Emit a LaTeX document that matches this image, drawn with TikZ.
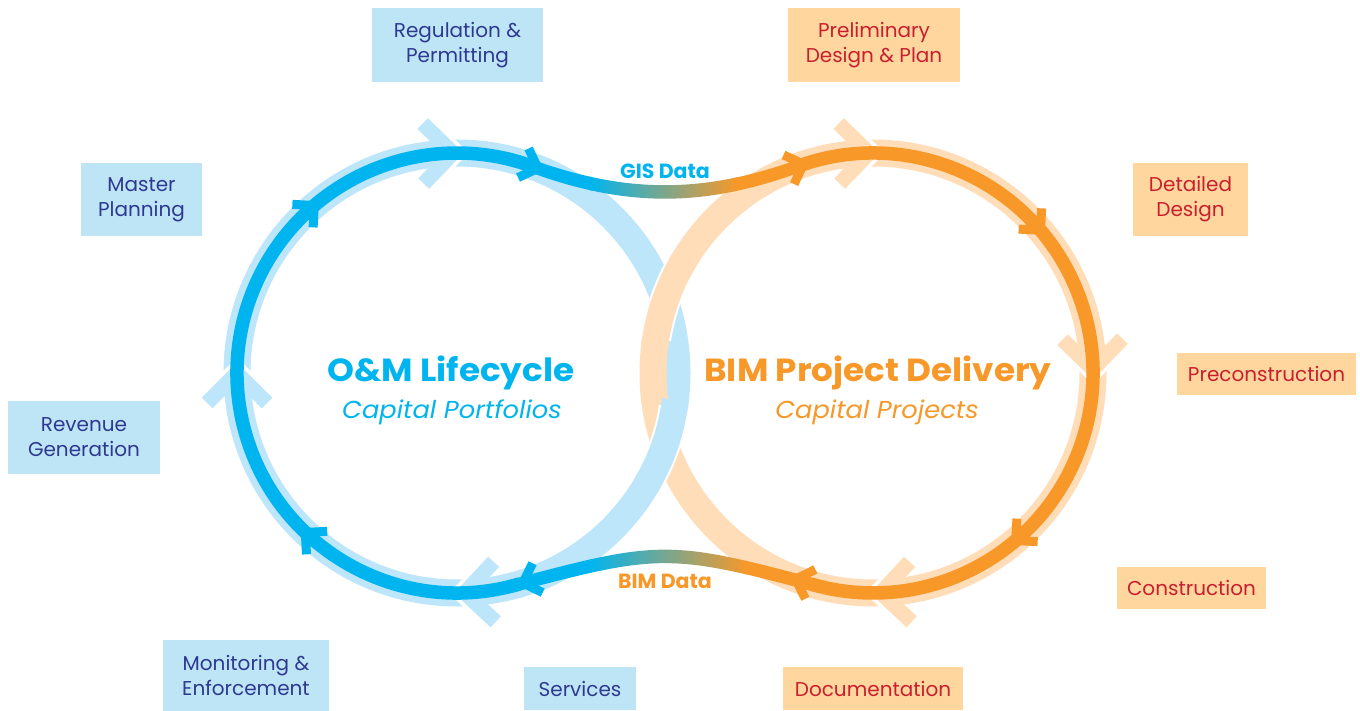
\documentclass[tikz,border=0pt]{standalone}
\usepackage{fontspec}
\setmainfont{Poppins}
\newfontfamily\titlefont{Poppins}[FakeStretch=1.07]
\newfontfamily\subfont{Poppins}[FakeStretch=1.05]
\usetikzlibrary{calc}
\definecolor{bD}{RGB}{0,181,239}
\definecolor{bL}{RGB}{190,230,250}
\definecolor{bBox}{RGB}{190,229,245}
\definecolor{oD}{RGB}{247,152,41}
\definecolor{oL}{RGB}{255,221,185}
\definecolor{oBox}{RGB}{255,214,158}
\definecolor{navyT}{RGB}{46,57,145}
\definecolor{redT}{RGB}{200,32,46}
\newcommand{\lchev}[3]{%
  \begin{scope}[shift={($(#1)+(#2:220)$)}, rotate={-(#2)-90}]
    \draw[white, line width=15pt, line join=miter] (-25pt,30pt) -- (5pt,0pt) -- (-25pt,-30pt);
    \draw[#3, line width=15pt, line join=miter] (-30pt,30pt) -- (0pt,0pt) -- (-30pt,-30pt);
  \end{scope}}
\newcommand{\dchev}[3]{%
  \begin{scope}[shift={($(#1)+(#2:220)$)}, rotate={-(#2)-90}]
    \draw[#3, line width=9pt, line join=miter] (-9.5pt,15.5pt) -- (6pt,0pt) -- (-9.5pt,-15.5pt);
  \end{scope}}
\tikzset{
  lbox/.style={rectangle, inner sep=0pt, align=center, font=\fontsize{20}{25}\selectfont},
  bbox/.style={lbox, fill=bBox, text=navyT},
  obox/.style={lbox, fill=oBox, text=redT},
  lring/.style={line width=27pt},
  dring/.style={line width=13.5pt},
  title/.style={anchor=base, font=\titlefont\fontsize{32}{38}\selectfont\bfseries},
  subtitle/.style={anchor=base, font=\subfont\fontsize{24.5}{29}\selectfont\itshape},
  datalbl/.style={anchor=base, font=\fontsize{20.5}{24}\selectfont\bfseries},
}
\begin{document}
\begin{tikzpicture}[x=1pt,y=-1pt]
\fill[white] (0,0) rectangle (1360,711);
\useasboundingbox (0,0) rectangle (1360,711);
\coordinate (CB) at (457,373);
\coordinate (CO) at (873,373);
% light rings
\draw[bL, lring] (CB) circle[radius=220pt];
\draw[oL, lring] (CO) circle[radius=220pt];
% top crossing: orange over blue
\draw[white, line width=31pt] (CO) ++(189:220) arc[start angle=189, end angle=209, radius=220];
\draw[oL, lring] (CO) ++(187:220) arc[start angle=187, end angle=211, radius=220];
% bottom crossing: blue over orange
\draw[white, line width=31pt] (CB) ++(9:220) arc[start angle=9, end angle=29, radius=220];
\draw[bL, lring] (CB) ++(7:220) arc[start angle=7, end angle=31, radius=220];
% light chevrons
\lchev{CB}{269}{bL}
\lchev{CB}{180}{bL}
\lchev{CB}{88}{bL}
\lchev{CO}{269}{oL}
\lchev{CO}{359}{oL}
\lchev{CO}{88}{oL}
% dark arcs
\draw[bD, dring] (CB) ++(73.5:220) arc[start angle=73.5, end angle=291.5, radius=220];
\draw[oD, dring] (CO) ++(248.5:220) arc[start angle=248.5, end angle=466.5, radius=220];
% GIS curve with gradient
\begin{scope}
  \clip (532.2,159.55) .. controls (626.2,193.75) and (703.8,193.75) .. (797.8,159.55)
     -- (797.8,173.05) .. controls (703.8,207.25) and (626.2,207.25) .. (532.2,173.05) -- cycle;
  \fill[bD] (520,140) rectangle (592,230);
  \shade[left color=bD, right color=oD] (590,140) rectangle (737,230);
  \fill[oD] (735,140) rectangle (810,230);
\end{scope}
% BIM curve with gradient
\begin{scope}
  \clip (816.1,578.75) .. controls (671.2,539.95) and (658.8,539.95) .. (513.9,578.75)
     -- (513.9,592.25) .. controls (658.8,553.45) and (671.2,553.45) .. (816.1,592.25) -- cycle;
  \fill[bD] (500,520) rectangle (592,610);
  \shade[left color=bD, right color=oD] (590,520) rectangle (747,610);
  \fill[oD] (745,520) rectangle (830,610);
\end{scope}
% dark arrows
\dchev{CB}{132}{bD}
\dchev{CB}{228}{bD}
\dchev{CB}{290}{bD}
\dchev{CB}{71}{bD}
\dchev{CO}{250}{oD}
\dchev{CO}{318}{oD}
\dchev{CO}{48}{oD}
\dchev{CO}{109}{oD}
% titles
\node[title, text=bD] (tOM) at (451,381) {O\&M Lifecycle};
\node[subtitle, text=bD] (sOM) at (452,418) {Capital Portfolios};
\node[title, text=oD] (tBIM) at (878,381) {BIM Project Delivery};
\node[subtitle, text=oD] (sBIM) at (877,418) {Capital Projects};
\node[datalbl, text=bD] (gis) at (665,179) {GIS Data};
\node[datalbl, text=oD] (bim) at (665,588) {BIM Data};
% labels
\node[bbox, minimum width=171pt, minimum height=74pt] (reg) at (457.5,45) {Regulation \&\\Permitting};
\node[bbox, minimum width=121pt, minimum height=73pt] (mas) at (141.5,199.5) {Master\\Planning};
\node[bbox, minimum width=152pt, minimum height=73pt] (rev) at (84,437.5) {Revenue\\Generation};
\node[bbox, minimum width=166pt, minimum height=71pt] (mon) at (246,675.5) {Monitoring \&\\Enforcement};
\node[bbox, minimum width=112pt, minimum height=43pt] (ser) at (580,688.5) {Services};
\node[obox, minimum width=172pt, minimum height=74pt] (pre) at (874,45) {Preliminary\\Design \& Plan};
\node[obox, minimum width=115pt, minimum height=73pt] (det) at (1190.5,199.5) {Detailed\\Design};
\node[obox, minimum width=179pt, minimum height=42pt] (pcn) at (1266.5,374) {Preconstruction};
\node[obox, minimum width=149pt, minimum height=42pt] (con) at (1191.5,588) {Construction};
\node[obox, minimum width=180pt, minimum height=43pt] (doc) at (873,688.5) {Documentation};
\end{tikzpicture}
\end{document}
